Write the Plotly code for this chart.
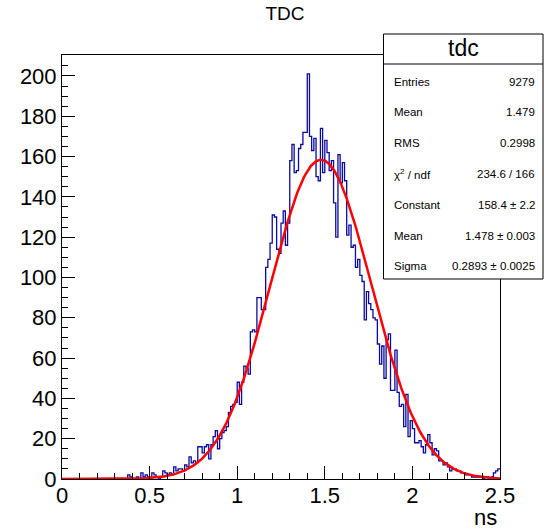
import numpy as np
import plotly.graph_objects as go

# ---------------- data ----------------
x_min, x_max, n_bins = 0.0, 2.5, 200
counts = [
    0, 0, 0, 0, 0, 0, 0, 0, 0, 0,
    0, 0, 0, 0, 0, 0, 0, 0, 0, 0,
    0, 0, 0, 0, 0, 0, 0, 0, 0, 0,
    2, 1, 0, 0, 1, 0, 3, 1, 2, 1,
    0, 3, 2, 1, 0, 1, 4, 3, 2, 3,
    2, 6, 4, 5, 5, 4, 7, 6, 11, 8,
    9, 8, 16, 16, 13, 16, 17, 10, 17, 21,
    24, 15, 20, 23, 24, 26, 33, 36, 37, 38,
    48, 37, 48, 56, 55, 52, 73, 74, 73, 90,
    90, 84, 84, 105, 109, 117, 131, 130, 114, 112,
    127, 133, 116, 127, 158, 166, 152, 153, 164, 166,
    172, 172, 201, 170, 163, 169, 150, 148, 174, 152,
    168, 162, 153, 158, 137, 120, 161, 147, 157, 148,
    121, 126, 115, 116, 105, 109, 101, 98, 79, 93,
    87, 84, 80, 79, 67, 57, 66, 50, 69, 72,
    44, 44, 64, 43, 36, 37, 26, 42, 21, 29,
    25, 18, 18, 19, 16, 13, 17, 22, 18, 12,
    15, 14, 9, 9, 7, 8, 6, 4, 5, 5,
    4, 4, 3, 3, 2, 2, 2, 1, 1, 1,
    1, 1, 0, 1, 1, 0, 1, 3, 4, 5,
]
fit_constant, fit_mean, fit_sigma = 158.4, 1.478, 0.2893

stats_title = "tdc"
stats_labels = ["Entries", "Mean", "RMS", "χ<sup>2</sup> / ndf", "Constant", "Mean", "Sigma"]
stats_values = ["9279", "1.479", "0.2998", "234.6 / 166", "158.4 ± 2.2", "1.478 ± 0.003", "0.2893 ± 0.0025"]

x_ticks = [0, 0.5, 1, 1.5, 2, 2.5]
x_ticklabels = ["0", "0.5", "1", "1.5", "2", "2.5"]
y_ticks = list(range(0, 201, 20))

# ---------------- geometry ----------------
W_PX, H_PX = 544, 532
L, R, T, B = 62, 500, 55, 479
PW, PH = R - L, B - T


def pxx(p):
    return (p - L) / PW


def pxy(p):
    return (B - p) / PH


edges = np.linspace(x_min, x_max, n_bins + 1)
hist_y = list(counts) + [counts[-1]]

xf = np.linspace(x_min, x_max, 600)
yf = fit_constant * np.exp(-0.5 * ((xf - fit_mean) / fit_sigma) ** 2)

FONT = "Liberation Sans, Arial, Helvetica, sans-serif"

fig = go.Figure()
fig.add_trace(go.Scatter(x=edges, y=hist_y, mode="lines", line_shape="hv",
                         line=dict(color="#0a0a9e", width=1.3), showlegend=False,
                         hoverinfo="skip"))
fig.add_trace(go.Scatter(x=xf, y=yf, mode="lines",
                         line=dict(color="#ff0000", width=2.5), showlegend=False,
                         hoverinfo="skip"))

fig.update_layout(
    width=W_PX, height=H_PX, autosize=False,
    margin=dict(l=L, r=W_PX - R, t=T, b=H_PX - B, pad=0),
    paper_bgcolor="white", plot_bgcolor="white",
    font=dict(family=FONT, color="black"),
    title=dict(text="TDC", x=285 / W_PX, xanchor="center", y=1 - 13 / H_PX,
               yanchor="middle", font=dict(size=19, family=FONT, color="black")),
)

fig.update_xaxes(range=[x_min, x_max], showgrid=False, zeroline=False,
                 showline=True, linecolor="black", linewidth=1, mirror=True,
                 ticks="inside", ticklen=13, tickwidth=1, tickcolor="black",
                 tickvals=x_ticks, ticktext=x_ticklabels, ticklabelstandoff=-3,
                 tickfont=dict(size=22, family=FONT, color="black"),
                 minor=dict(ticks="inside", ticklen=6, dtick=0.1, tick0=0,
                            tickcolor="black", showgrid=False))
fig.update_yaxes(range=[0, 210.4], showgrid=False, zeroline=False,
                 showline=True, linecolor="black", linewidth=1, mirror=True,
                 ticks="inside", ticklen=13, tickwidth=1, tickcolor="black",
                 tickvals=y_ticks,
                 tickfont=dict(size=22, family=FONT, color="black"),
                 minor=dict(ticks="inside", ticklen=6, dtick=5, tick0=0,
                            tickcolor="black", showgrid=False))

# x axis title "ns"
fig.add_annotation(text="ns", xref="paper", yref="paper", x=pxx(499), y=pxy(517),
                   xanchor="right", yanchor="middle", showarrow=False,
                   font=dict(size=22, family=FONT, color="black"))

# stats box
box_l, box_r, box_t, box_b, box_div = 383.5, 543, 34, 279, 64
fig.add_shape(type="rect", xref="paper", yref="paper",
              x0=pxx(box_l), x1=pxx(box_r), y0=pxy(box_b), y1=pxy(box_t),
              line=dict(color="black", width=1), fillcolor="white", layer="above")
fig.add_shape(type="line", xref="paper", yref="paper",
              x0=pxx(box_l), x1=pxx(box_r), y0=pxy(box_div), y1=pxy(box_div),
              line=dict(color="black", width=1), layer="above")
fig.add_annotation(text=stats_title, xref="paper", yref="paper",
                   x=pxx((box_l + box_r) / 2), y=pxy(48), xanchor="center", yanchor="middle",
                   showarrow=False, font=dict(size=23, family=FONT, color="black"))
row_y0, row_dy = 81.5, 30.8
for i, (lab, val) in enumerate(zip(stats_labels, stats_values)):
    yy = pxy(row_y0 + i * row_dy)
    fig.add_annotation(text=lab, xref="paper", yref="paper", x=pxx(392), y=yy,
                       xanchor="left", yanchor="middle", showarrow=False,
                       font=dict(size=11.5, family=FONT, color="black"))
    fig.add_annotation(text=val, xref="paper", yref="paper", x=pxx(536.5), y=yy,
                       xanchor="right", yanchor="middle", showarrow=False,
                       font=dict(size=11.5, family=FONT, color="black"))

fig.write_html("out.html")
